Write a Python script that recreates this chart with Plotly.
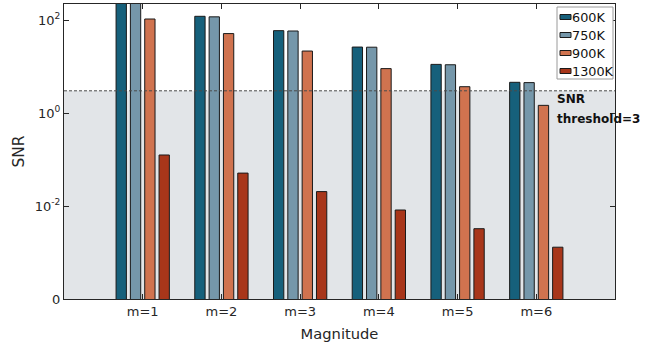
import plotly.graph_objects as go

magnitudes = ["m=1", "m=2", "m=3", "m=4", "m=5", "m=6"]
positions = [1, 2, 3, 4, 5, 6]
series_names = ["600K", "750K", "900K", "1300K"]
snr_600k = [250, 120, 59, 26.2, 11.1, 4.57]
snr_750k = [245, 117, 58, 26.0, 10.9, 4.5]
snr_900k = [105, 51, 21.5, 9.0, 3.68, 1.46]
snr_1300k = [0.125, 0.051, 0.0204, 0.0082, 0.00325, 0.0013]
threshold = 3
ytick_vals = [1e-4, 1e-2, 1, 100]
ytick_text = ["0", "10<sup>-2</sup>", "10<sup>0</sup>", "10<sup>2</sup>"]

colors = ["#16607b", "#7597aa", "#d0734f", "#a8361a"]
all_series = [snr_600k, snr_750k, snr_900k, snr_1300k]

FONT = "DejaVu Sans"
W, H = 656, 348
L, R, T, B = 64, 41, 4, 49
pw, ph = W - L - R, H - T - B


def pxx(px):
    return (px - L) / pw


def pxy(py):
    return 1 - (py - T) / ph


fig = go.Figure()
for name, vals, col in zip(series_names, all_series, colors):
    fig.add_trace(go.Bar(
        x=positions, y=vals, name=name, showlegend=False,
        marker=dict(color=col, line=dict(color="#1a1a1a", width=1)),
    ))

fig.add_hrect(y0=1e-4, y1=threshold, fillcolor="#e2e5e8", line_width=0, layer="below")
fig.add_hline(y=threshold, line=dict(color="#4a4a4a", width=1, dash="3px,2px"))

# threshold label
fig.add_annotation(text="<b>SNR</b>", x=pxx(556), y=pxy(99),
                   xref="paper", yref="paper", xanchor="left", yanchor="middle",
                   showarrow=False, borderpad=0,
                   font=dict(family=FONT, size=12, color="#111111"))
fig.add_annotation(text="<b>threshold=3</b>", x=pxx(556), y=pxy(118.5),
                   xref="paper", yref="paper", xanchor="left", yanchor="middle",
                   showarrow=False, borderpad=0,
                   font=dict(family=FONT, size=12, color="#111111"))

# legend drawn as box + swatches + labels
fig.add_shape(type="rect", xref="paper", yref="paper",
              x0=pxx(557), x1=pxx(613), y0=pxy(79), y1=pxy(7),
              fillcolor="white", line=dict(color="#9a9a9a", width=1), layer="above")
for i, (name, col) in enumerate(zip(series_names, colors)):
    cy = 17 + 18 * i
    fig.add_shape(type="rect", xref="paper", yref="paper",
                  x0=pxx(560), x1=pxx(571), y0=pxy(cy + 2.5), y1=pxy(cy - 2.5),
                  fillcolor=col, line=dict(color="#1a1a1a", width=1), layer="above")
    fig.add_annotation(text=name, x=pxx(571), y=pxy(cy + 0.5),
                       xref="paper", yref="paper", xanchor="left", yanchor="middle",
                       showarrow=False, borderpad=0,
                       font=dict(family=FONT, size=12.8, color="#111111"))

axis_common = dict(showline=True, linecolor="#262626", linewidth=1, mirror="ticks",
                   ticks="inside", ticklen=5, tickcolor="#262626", showgrid=False,
                   zeroline=False,
                   tickfont=dict(family=FONT, size=13, color="#262626"))

fig.update_layout(
    width=W, height=H,
    margin=dict(l=L, r=R, t=T, b=B),
    paper_bgcolor="white", plot_bgcolor="white",
    barmode="group", bargap=0.272, bargroupgap=0.28,
    showlegend=False,
    xaxis=dict(range=[0, 7], tickvals=positions, ticktext=magnitudes,
               title=dict(text="Magnitude", standoff=11,
                          font=dict(family=FONT, size=14.7, color="#262626")),
               **axis_common),
    yaxis=dict(type="log", range=[-4, 2.344], tickvals=ytick_vals, ticktext=ytick_text,
               title=dict(text="SNR", standoff=6,
                          font=dict(family=FONT, size=15.5, color="#262626")),
               **axis_common),
)

fig.write_html("out.html")
